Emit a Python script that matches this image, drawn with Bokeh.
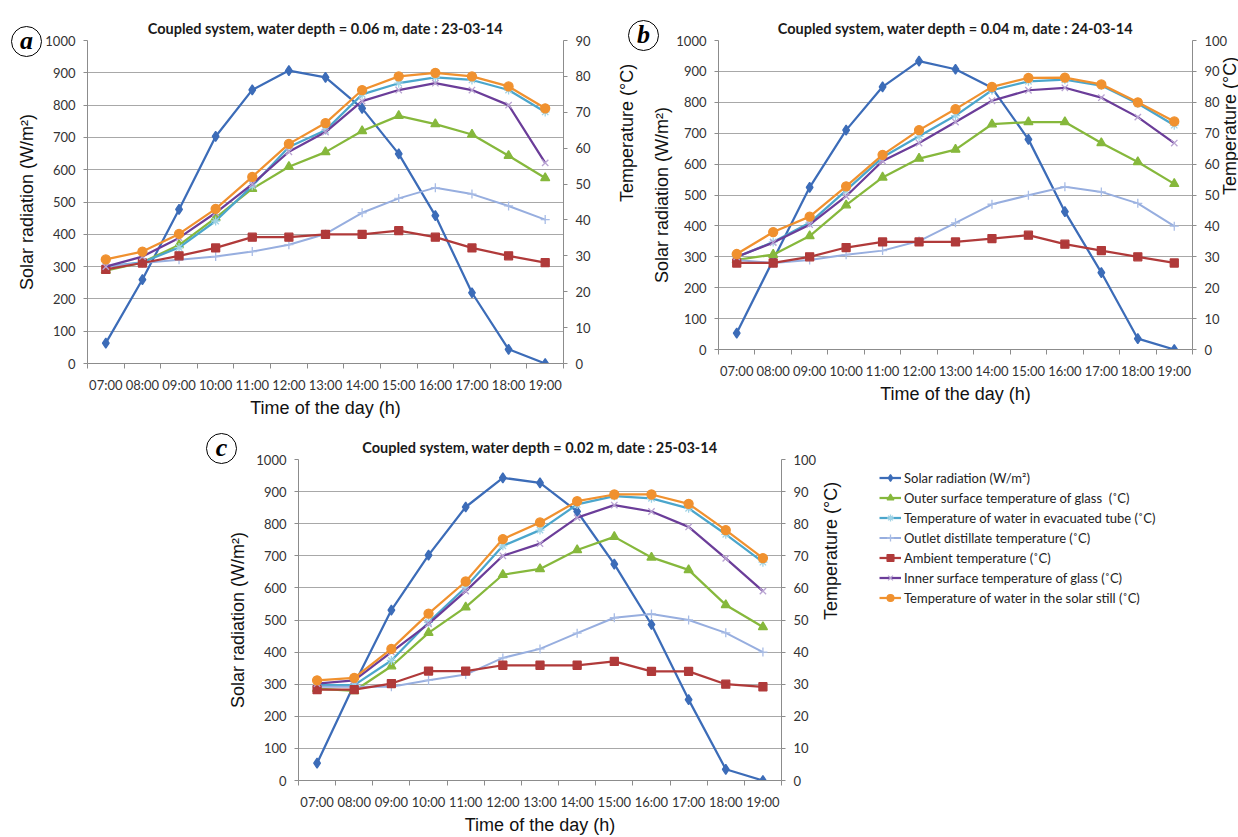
import math
from bokeh.plotting import figure
from bokeh.models import (Range1d, LinearAxis, FixedTicker, Legend, LegendItem, Spacer, Div)
from bokeh.layouts import row, column
from bokeh.embed import file_html
from bokeh.resources import INLINE

times = ["07:00", "08:00", "09:00", "10:00", "11:00", "12:00", "13:00",
         "14:00", "15:00", "16:00", "17:00", "18:00", "19:00"]

# Panel (a): water depth 0.06 m, 23-03-14
solar_a = [63, 260, 477, 703, 847, 907, 886, 790, 649, 458, 219, 44, 0]
outer_a = [25.9, 28.2, 33.0, 40.6, 48.7, 54.8, 58.9, 64.8, 69.0, 66.7, 63.8, 57.9, 51.7]
tube_a = [27.0, 28.2, 32.3, 39.7, 49.5, 60.3, 65.0, 75.0, 78.1, 79.7, 79.0, 76.2, 70.1]
outlet_a = [27.0, 28.0, 28.9, 29.8, 31.2, 33.1, 36.1, 42.0, 46.0, 49.0, 47.2, 43.9, 40.1]
ambient_a = [26.2, 28.0, 30.0, 32.2, 35.2, 35.2, 36.0, 36.0, 37.0, 35.2, 32.2, 30.0, 28.1]
inner_a = [27.0, 29.8, 35.0, 42.0, 50.0, 59.0, 64.5, 73.1, 76.2, 78.1, 76.2, 72.0, 55.9]
still_a = [29.0, 31.2, 36.1, 43.1, 52.0, 61.2, 67.0, 76.2, 80.0, 81.0, 80.0, 77.2, 71.1]

# Panel (b): water depth 0.04 m, 24-03-14
solar_b = [53, 290, 525, 710, 850, 933, 907, 847, 680, 446, 249, 35, 0]
outer_b = [29.0, 30.7, 36.7, 46.7, 55.7, 61.8, 64.7, 72.9, 73.6, 73.6, 66.8, 60.7, 53.6]
tube_b = [29.9, 34.8, 41.0, 51.5, 62.2, 69.0, 75.7, 83.9, 86.8, 87.3, 85.4, 79.6, 72.6]
outlet_b = [29.0, 28.0, 29.0, 30.7, 32.0, 35.1, 41.0, 47.0, 49.9, 52.7, 51.0, 47.3, 39.9]
ambient_b = [28.0, 28.0, 30.0, 33.0, 34.8, 34.8, 34.8, 35.9, 37.0, 34.1, 32.0, 30.0, 28.0]
inner_b = [30.0, 34.6, 40.4, 49.6, 61.0, 66.8, 73.6, 80.5, 83.9, 84.7, 81.5, 75.2, 66.8]
still_b = [30.9, 38.0, 43.0, 52.8, 63.0, 71.0, 77.8, 85.0, 87.9, 88.0, 85.8, 80.0, 73.8]

# Panel (c): water depth 0.02 m, 25-03-14
solar_c = [54, 300, 531, 702, 852, 943, 927, 838, 674, 486, 252, 35, 0]
outer_c = [28.6, 27.9, 35.6, 46.0, 54.0, 64.1, 65.9, 71.8, 75.9, 69.5, 65.6, 54.7, 47.8]
tube_c = [29.7, 29.7, 37.4, 49.3, 60.2, 73.1, 78.0, 86.0, 88.6, 87.9, 84.8, 76.7, 68.0]
outlet_c = [29.2, 29.2, 29.2, 31.2, 33.0, 38.2, 41.0, 45.9, 50.7, 51.9, 50.0, 46.0, 40.0]
ambient_c = [28.3, 28.3, 30.2, 34.1, 34.1, 35.9, 35.9, 35.9, 37.1, 34.0, 34.0, 30.0, 29.2]
inner_c = [30.2, 31.2, 40.0, 48.8, 59.0, 70.0, 73.8, 81.9, 85.8, 83.8, 79.0, 69.2, 59.0]
still_c = [31.2, 32.0, 41.0, 52.0, 62.0, 75.2, 80.4, 87.0, 89.1, 89.1, 86.2, 78.0, 69.3]

series_labels = [
    "Solar radiation (W/m\u00b2)",
    "Outer surface temperature of glass  (\u02daC)",
    "Temperature of water in evacuated tube (\u02daC)",
    "Outlet distillate temperature (\u02daC)",
    "Ambient temperature (\u02daC)",
    "Inner surface temperature of glass (\u02daC)",
    "Temperature of water in the solar still (\u02daC)",
]

# style per series: (line color, marker, marker line color, marker fill, size, line width)
STYLES = [
    ("#3C6CB8", "diamond", "#3C6CB8", "#3C6CB8", 10, 2.25),
    ("#86B83C", "triangle", "#86B83C", "#86B83C", 9, 2.25),
    ("#4BA6CC", "asterisk", "#9FD3E6", None, 9, 2.25),
    ("#97AEDF", "cross", "#A9BDE6", None, 9, 2.0),
    ("#B03A3A", "square", "#B03A3A", "#B03A3A", 8, 2.25),
    ("#6B3D99", "x", "#B8A3D2", None, 9, 2.25),
    ("#F0912F", "circle", "#F0912F", "#F0912F", 9, 2.25),
]

AXIS_COLOR = "#8C8C8C"
GRID_COLOR = "#A8A8A8"
TICK_FONT = "Lato"
LABEL_FONT = "Liberation Sans"
RIGHT_STANDOFF = {"a": 33, "b": 0, "c": 12}
LEFT_STANDOFF = {"a": 5, "b": 1, "c": 5}

# category slots: each time is drawn at the centre of its slot
xpos = [i + 0.5 for i in range(len(times))]
edges = list(range(len(times) + 1))


def make_panel(title, letter, solar, temps, tmax, geom):
    bl, fw, br, bt, fh, bb = geom
    p = figure(x_range=Range1d(0, len(times)), y_range=Range1d(0, 1000),
               frame_width=fw, frame_height=fh,
               min_border_left=bl, min_border_right=br,
               min_border_top=bt, min_border_bottom=bb,
               x_axis_location=None, y_axis_location="left",
               output_backend="svg", toolbar_location=None, title=title)
    p.extra_y_ranges = {"temp": Range1d(0, tmax)}
    p.outline_line_color = None
    p.background_fill_color = "white"
    p.border_fill_color = None

    p.title.align = "center"
    p.title.text_font = TICK_FONT
    p.title.text_font_style = "bold"
    p.title.text_font_size = "14.5px"
    p.title.text_color = "#1A1A1A"
    p.title.standoff = 8

    ly = p.yaxis[0]
    ly.ticker = FixedTicker(ticks=list(range(0, 1001, 100)))
    ly.axis_label = "Solar radiation (W/m\u00b2)"
    p.ygrid.grid_line_color = GRID_COLOR
    p.ygrid.grid_line_width = 1
    p.xgrid.visible = False

    ry = LinearAxis(y_range_name="temp", ticker=FixedTicker(ticks=list(range(0, tmax + 1, 10))),
                    axis_label="Temperature (\u00b0C)")
    try:
        ry.axis_label_orientation = math.pi / 2
    except Exception:
        pass
    p.add_layout(ry, "right")

    # x axes: tick marks at slot boundaries, then labels at slot centres
    tx = LinearAxis(ticker=FixedTicker(ticks=edges),
                    major_label_overrides={e: "" for e in edges})
    tx.major_label_text_font_size = "1px"
    tx.major_label_standoff = 0
    tx.major_tick_out = 5
    tx.major_tick_in = 0
    tx.minor_tick_line_color = None
    tx.axis_line_color = AXIS_COLOR
    tx.major_tick_line_color = AXIS_COLOR
    p.add_layout(tx, "below")

    cx = LinearAxis(ticker=FixedTicker(ticks=xpos),
                    major_label_overrides={x: t for x, t in zip(xpos, times)},
                    axis_label="Time of the day (h)")
    cx.axis_line_color = None
    cx.major_tick_line_color = None
    cx.minor_tick_line_color = None
    cx.major_label_standoff = 2
    cx.axis_label_standoff = 2
    p.add_layout(cx, "below")

    for ax in (ly, ry, cx):
        ax.axis_label_text_font = LABEL_FONT
        ax.axis_label_text_font_size = "18px"
        ax.axis_label_text_font_style = "normal"
        ax.axis_label_text_color = "#111111"
        ax.major_label_text_font = TICK_FONT
        ax.major_label_text_font_size = "13px"
        ax.major_label_text_color = "#333333"
    for ax in (ly, ry):
        ax.axis_line_color = AXIS_COLOR
        ax.major_tick_line_color = AXIS_COLOR
        ax.major_tick_out = 4
        ax.major_tick_in = 0
        ax.minor_tick_line_color = None
        ax.major_label_standoff = 8
    ly.axis_label_standoff = LEFT_STANDOFF[letter]
    ry.axis_label_standoff = RIGHT_STANDOFF[letter]

    for i, (vals, st) in enumerate(zip([solar] + temps, STYLES)):
        lc, mk, mlc, mfc, sz, lw = st
        yname = "default" if i == 0 else "temp"
        p.line(xpos, vals, line_color=lc, line_width=lw, y_range_name=yname)
        p.scatter(xpos, vals, marker=mk, size=sz, line_color=mlc,
                  fill_color=mfc, line_width=1.3, y_range_name=yname)
    return p


def make_legend_panel(series):
    # series are drawn here only as legend proxies; the view range keeps them out of sight
    lf = figure(width=385, height=414, x_range=Range1d(0, 1), y_range=Range1d(-2, -1),
                min_border_left=15, min_border_right=0, min_border_bottom=0, min_border_top=19,
                x_axis_location=None, y_axis_location=None,
                output_backend="svg", toolbar_location=None)
    lf.outline_line_color = None
    lf.background_fill_color = None
    lf.border_fill_color = None
    lf.grid.visible = False
    items = []
    for label, vals, st in zip(series_labels, series, STYLES):
        lc, mk, mlc, mfc, sz, lw = st
        r1 = lf.line(xpos, vals, line_color=lc, line_width=lw)
        r2 = lf.scatter(xpos, vals, marker=mk, size=sz, line_color=mlc, fill_color=mfc,
                        line_width=1.3)
        items.append(LegendItem(label=label, renderers=[r1, r2]))
    leg = Legend(items=items, location="top_left")
    leg.border_line_color = None
    leg.background_fill_alpha = 0
    leg.label_text_font = TICK_FONT
    leg.label_text_font_size = "13px"
    leg.label_text_color = "#222222"
    leg.glyph_width = 22
    leg.glyph_height = 17
    leg.label_height = 17
    leg.spacing = 3
    leg.label_standoff = 3
    leg.padding = 10
    leg.margin = 10
    lf.add_layout(leg, "center")
    return lf


def letter_badge(ch, top, right, left):
    html = ('<div style="width:31px;height:31px;border:1.5px solid #000;border-radius:50%;'
            'box-sizing:border-box;text-align:center;line-height:27px;'
            "font-family:'Liberation Serif',serif;font-weight:bold;font-style:italic;"
            'font-size:26px;color:#000;">' + ch + '</div>')
    return Div(text=html, width=32, height=32, margin=(top, right, 0, left))


pa = make_panel("Coupled system, water depth = 0.06 m, date : 23-03-14", "a", solar_a,
                [outer_a, tube_a, outlet_a, ambient_a, inner_a, still_a], 90,
                (87, 476, 78, 40, 323, 56))
pb = make_panel("Coupled system, water depth = 0.04 m, date : 24-03-14", "b", solar_b,
                [outer_b, tube_b, outlet_b, ambient_b, inner_b, still_b], 100,
                (63, 474, 55, 40, 309, 56))
pc = make_panel("Coupled system, water depth = 0.02 m, date : 25-03-14", "c", solar_c,
                [outer_c, tube_c, outlet_c, ambient_c, inner_c, still_c], 100,
                (69, 483, 68, 39, 321, 54))
pl = make_legend_panel([solar_c, outer_c, tube_c, outlet_c, ambient_c, inner_c, still_c])

badge_a = letter_badge("a", 26, -43, 11)
badge_b = letter_badge("b", 20, -11, -21)
badge_c = letter_badge("c", 13, -238, 206)

layout = column(row(badge_a, pa, badge_b, pb),
                row(badge_c, Spacer(width=225, height=10), pc, pl))
open("out.html", "w").write(file_html(layout, INLINE))
